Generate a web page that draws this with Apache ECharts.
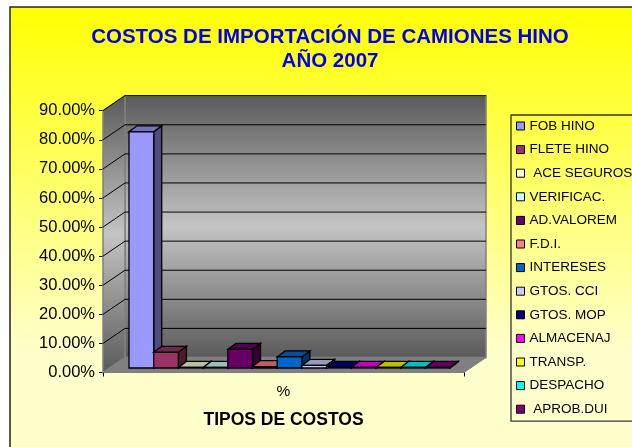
<!DOCTYPE html>
<html><head><meta charset="utf-8">
<style>html,body{margin:0;padding:0;background:#fff}#c{width:632px;height:447px}</style>
<script src="https://cdn.jsdelivr.net/npm/echarts@6/dist/echarts.min.js"></script>
</head><body><div id="c"></div>
<script>
const categories = ['%'];
const costNames = ['FOB HINO','FLETE HINO',' ACE SEGUROS','VERIFICAC.','AD.VALOREM','F.D.I.','INTERESES','GTOS. CCI','GTOS. MOP','ALMACENAJ','TRANSP.','DESPACHO',' APROB.DUI'];
const costValues = [81.2,5.4,0.2,0.2,6.4,0.5,3.8,0.9,0.2,0.2,0.2,0.2,0.2];
const costColors = ['#9999FF','#993366','#FFFFCC','#CCFFFF','#660066','#FF8080','#0066CC','#CCCCFF','#000080','#FF00FF','#FFFF00','#00FFFF','#800080'];
const yTicks = [0,10,20,30,40,50,60,70,80,90];

const DX=22, DY=-15;      // wall depth
const OX=7, OY=-4.5;      // bar offset inside depth
const BX=8, BY=-6;        // bar depth
const BAR_W=24.7, BAR_X0=26;

function shade(hex,f){
  const n=parseInt(hex.slice(1),16);
  const c=[n>>16&255,n>>8&255,n&255].map(v=>Math.round(v*f));
  return `rgb(${c[0]},${c[1]},${c[2]})`;
}
function poly(points,fill,stroke,lw){
  return {type:'polygon',shape:{points},style:{fill,stroke:stroke||'#000',lineWidth:lw==null?1.3:lw}};
}
function wallItem(params,api){
  const v=api.value(1);
  const p0=api.coord([0,v]);
  const left=params.coordSys.x, right=left+params.coordSys.width;
  const top=api.coord([0,90])[1], base=api.coord([0,0])[1];
  const kids=[];
  if(params.dataIndex===0){
    const wallGrad={type:'linear',x:0,y:0,x2:0,y2:1,colorStops:[
      {offset:0,color:'#5A5A5A'},{offset:0.5,color:'#C4C4C4'},{offset:1,color:'#5A5A5A'}]};
    kids.push(poly([[left+DX,top+DY],[right+DX,top+DY],[right+DX,base+DY],[left+DX,base+DY]],wallGrad,'#808080',1.5));
    kids.push(poly([[left,top],[left+DX,top+DY],[left+DX,base+DY],[left,base]],wallGrad,'#808080',1.5));
    kids.push(poly([[left,base],[left+DX,base+DY],[right+DX,base+DY],[right,base]],'#808080','#808080',1));
  }
  if(v>0){
    kids.push({type:'polyline',shape:{points:[[left,p0[1]],[left+DX,p0[1]+DY],[right+DX,p0[1]+DY]]},style:{fill:null,stroke:'#000',lineWidth:1}});
  }
  return {type:'group',children:kids};
}
function barItem(idx){
  return function(params,api){
    const v=api.value(1);
    const color=api.visual('color');
    const left=params.coordSys.x;
    const x=left+BAR_X0+idx*BAR_W;
    const yb=api.coord([0,0])[1]+OY, yt=api.coord([0,v])[1]+OY;
    const x2=x+BAR_W;
    return {type:'group',children:[
      poly([[x2,yb],[x2+BX,yb+BY],[x2+BX,yt+BY],[x2,yt]],shade(color,0.5)),
      poly([[x,yt],[x+BX,yt+BY],[x2+BX,yt+BY],[x2,yt]],shade(color,0.75)),
      poly([[x,yb],[x2,yb],[x2,yt],[x,yt]],color)
    ]};
  };
}
const series=[{
  name:'walls',type:'custom',coordinateSystem:'cartesian2d',silent:true,clip:false,z:1,
  data:yTicks.map(t=>[0,t]),renderItem:wallItem,encode:{x:0,y:1}
}];
costNames.forEach((name,i)=>{
  series.push({name,type:'custom',coordinateSystem:'cartesian2d',clip:false,z:2,
    itemStyle:{color:costColors[i],borderColor:'#000',borderWidth:1},
    data:[[0,costValues[i]]],renderItem:barItem(i),encode:{x:0,y:1}});
});
const chart=echarts.init(document.getElementById('c'));
chart.setOption({
  animation:false,
  backgroundColor:'#FFFFFF',
  textStyle:{fontFamily:'"Liberation Sans",Arial,sans-serif'},
  graphic:{elements:[{type:'rect',z:-100,silent:true,
    shape:{x:10,y:7,width:640,height:460},
    style:{stroke:'#222',lineWidth:1.5,
      fill:{type:'linear',x:0,y:0,x2:0,y2:1,colorStops:[
        {offset:0,color:'#FFFF00'},{offset:0.75,color:'#FFFFCC'},{offset:1,color:'#FFFFCC'}]}}}]},
  title:{text:'COSTOS DE IMPORTACIÓN DE CAMIONES HINO\nAÑO 2007',left:325,top:20,textAlign:'center',
    textStyle:{color:'#0000EE',fontSize:20.5,fontWeight:'bold',lineHeight:24,fontFamily:'"Liberation Sans",Arial,sans-serif'}},
  legend:{data:costNames,orient:'vertical',left:511,top:115,padding:[4,20,5,5],
    itemWidth:8,itemHeight:8,itemGap:9.6,icon:'rect',align:'left',
    backgroundColor:'rgba(0,0,0,0)',borderColor:'#333',borderWidth:1.3,
    textStyle:{fontSize:13.5,color:'#000',lineHeight:14},
    selectedMode:false,itemStyle:{borderColor:'#000',borderWidth:1}},
  grid:{left:103,right:168,top:110.7,bottom:74.5,containLabel:false},
  xAxis:{type:'category',data:categories,
    name:'TIPOS DE COSTOS',nameLocation:'middle',nameGap:39,
    nameTextStyle:{fontSize:17.5,fontWeight:'bold',color:'#000'},
    axisLine:{show:true,lineStyle:{color:'#000'}},
    axisTick:{show:true,length:4,lineStyle:{color:'#000'}},
    axisLabel:{fontSize:15.5,color:'#000',margin:11},splitLine:{show:false}},
  yAxis:{type:'value',min:0,max:90,interval:10,
    axisLine:{show:true,lineStyle:{color:'#000'}},
    axisTick:{show:true,length:4,lineStyle:{color:'#000'}},
    axisLabel:{fontSize:16.5,color:'#000',margin:8,formatter:v=>v.toFixed(2)+'%'},
    splitLine:{show:false}},
  series
});
</script></body></html>
